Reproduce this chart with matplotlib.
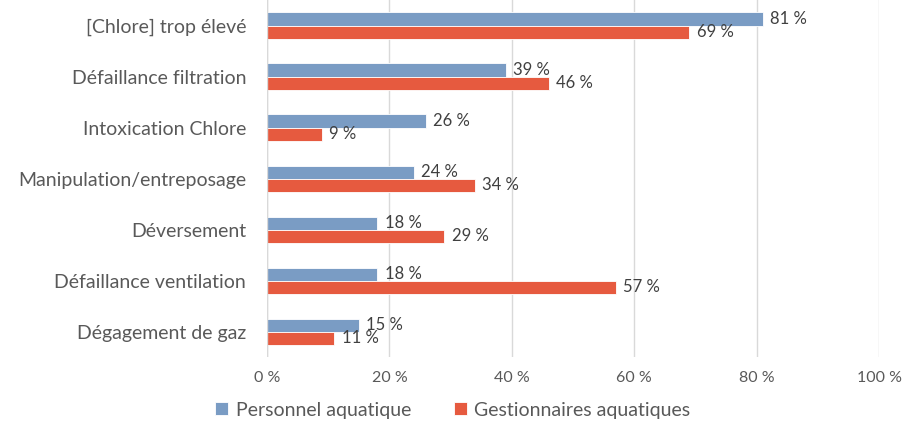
import numpy as np
import matplotlib
matplotlib.use("Agg")
import matplotlib.pyplot as plt

plt.rcParams['font.family'] = ['Lato', 'DejaVu Sans']

categories = ["[Chlore] trop élevé", "Défaillance filtration", "Intoxication Chlore",
              "Manipulation/entreposage", "Déversement", "Défaillance ventilation",
              "Dégagement de gaz"]
personnel = [81, 39, 26, 24, 18, 18, 15]
gestionnaires = [69, 46, 9, 34, 29, 57, 11]
series_names = ["Personnel aquatique", "Gestionnaires aquatiques"]

blue = "#7A9CC4"
red = "#E65A3F"
txt = "#595959"

fig = plt.figure(figsize=(9.06, 4.22), dpi=100)
ax = fig.add_axes([0.2947, 0.154, 0.6755, 0.846])

y = np.arange(len(categories))
h = 0.255
b1 = ax.barh(y - h / 2, personnel, height=h, color=blue, edgecolor="white", linewidth=0.6,
             label=series_names[0])
b2 = ax.barh(y + h / 2, gestionnaires, height=h, color=red, edgecolor="white", linewidth=0.6,
             label=series_names[1])

# value labels just right of each bar
for bars, vals in ((b1, personnel), (b2, gestionnaires)):
    for bar, v in zip(bars, vals):
        ax.text(v + 1.2, bar.get_y() + bar.get_height() / 2, f"{v} %", va="center", ha="left",
                fontsize=12, color="#404040")

ax.set_xlim(0, 100)
ax.set_ylim(len(categories) - 0.5, -0.5)
ax.set_yticks(y)
ax.set_yticklabels(categories, fontsize=14, color=txt)
ax.set_xticks(range(0, 101, 20))
ax.set_xticklabels([f"{t} %" for t in range(0, 101, 20)], fontsize=11.5, color=txt)
ax.tick_params(length=0)
ax.tick_params(axis="y", pad=15)
ax.tick_params(axis="x", pad=10)
ax.grid(axis="x", color="#D9D9D9", linewidth=1)
ax.set_axisbelow(True)
for s in ax.spines.values():
    s.set_visible(False)
ax.axvline(0, color="#D9D9D9", linewidth=1)

fig.legend(handles=[b1, b2], loc="center", bbox_to_anchor=(0.5, 0.028), ncol=2, frameon=False,
           fontsize=14, labelcolor=txt, handlelength=0.65, handleheight=0.65, columnspacing=2.2,
           handletextpad=0.4)

fig.savefig("out.png", dpi=100)
